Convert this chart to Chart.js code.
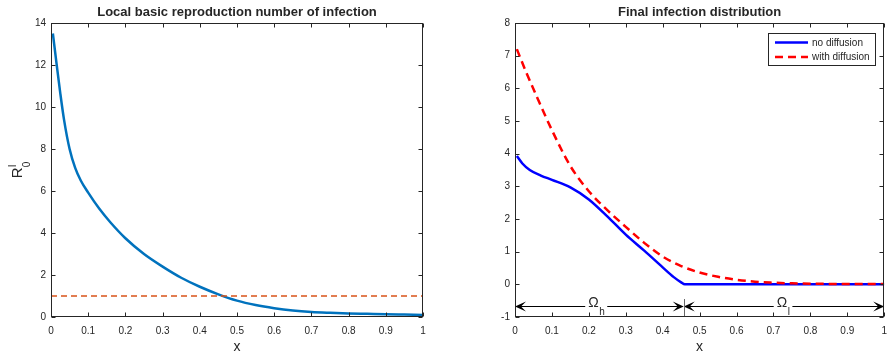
<!DOCTYPE html>
<html>
<head>
<meta charset="utf-8">
<script src="https://cdn.jsdelivr.net/npm/chart.js@4.4.0/dist/chart.umd.min.js"></script>
<style>
  html, body { margin: 0; padding: 0; background: #fff; overflow: hidden; width: 889px; height: 356px; }
  .panel { position: absolute; top: 0; }
</style>
</head>
<body>
<div class="panel" style="left:0"><canvas id="left" width="445" height="356"></canvas></div>
<div class="panel" style="left:445px"><canvas id="right" width="450" height="356"></canvas></div>
<script>
const FONT = '"Liberation Sans", Arial, Helvetica, sans-serif';
const INK = '#262626';

// left panel - local R0 along x
const r0X = [0.005, 0.015, 0.025, 0.035, 0.05, 0.065, 0.08, 0.1, 0.13, 0.16, 0.2, 0.25, 0.3, 0.35, 0.4, 0.45, 0.5, 0.55, 0.6, 0.65, 0.7, 0.75, 0.8, 0.85, 0.9, 0.95, 1.0];
const r0Y = [13.5, 12.05, 10.65, 9.4, 8.0, 7.1, 6.5, 5.92, 5.15, 4.5, 3.75, 3.0, 2.4, 1.87, 1.44, 1.08, 0.78, 0.57, 0.42, 0.31, 0.24, 0.2, 0.17, 0.15, 0.13, 0.115, 0.1];
const thresholdX = [0, 1];
const thresholdY = [1, 1];

// right panel - final infection
const noDiffX = [0.005, 0.02, 0.04, 0.07, 0.1, 0.15, 0.2, 0.25, 0.3, 0.35, 0.4, 0.43, 0.45, 0.46, 0.5, 0.6, 0.7, 0.8, 0.9, 1.0];
const noDiffY = [3.93, 3.7, 3.5, 3.33, 3.2, 2.97, 2.6, 2.08, 1.52, 1.03, 0.52, 0.22, 0.06, 0, 0, 0, 0, 0, 0, 0];
const withDiffX = [0.005, 0.03, 0.06, 0.1, 0.15, 0.2, 0.25, 0.3, 0.35, 0.4, 0.45, 0.5, 0.55, 0.6, 0.65, 0.7, 0.75, 0.8, 0.9, 1.0];
const withDiffY = [7.2, 6.5, 5.72, 4.72, 3.62, 2.85, 2.27, 1.76, 1.27, 0.85, 0.56, 0.36, 0.23, 0.14, 0.08, 0.05, 0.03, 0.02, 0.01, 0.01];

const xTicks = [0, 0.1, 0.2, 0.3, 0.4, 0.5, 0.6, 0.7, 0.8, 0.9, 1];
const leftYTicks = [0, 2, 4, 6, 8, 10, 12, 14];
const rightYTicks = [-1, 0, 1, 2, 3, 4, 5, 6, 7, 8];

// region annotation on the right panel
const interfaceX = 0.457;
const arrowY = -0.66;
const regions = [
  { x: 0.22, sub: 'h' },
  { x: 0.726, sub: 'l' }
];

const pts = (xs, ys) => xs.map((x, i) => ({ x, y: ys[i] }));

function xAxis() {
  return {
    type: 'linear', min: 0, max: 1,
    afterBuildTicks: s => { s.ticks = xTicks.map(v => ({ value: v })); },
    afterFit: s => { s.height = 39; },
    grid: { display: false, drawTicks: false },
    border: { display: false },
    ticks: { padding: 8, color: INK, font: { family: FONT, size: 10 }, maxRotation: 0, callback: v => String(v) }
  };
}

function yAxis(min, max, ticks, width) {
  return {
    type: 'linear', min, max,
    afterBuildTicks: s => { s.ticks = ticks.map(v => ({ value: v })); },
    afterFit: s => { s.width = width; },
    grid: { display: false, drawTicks: false },
    border: { display: false },
    ticks: { padding: 5, color: INK, font: { family: FONT, size: 10 }, callback: v => String(v) }
  };
}

// box, inward ticks, titles
function framePlugin(opts) {
  return {
    id: 'frame',
    afterDatasetsDraw(chart) {
      const { ctx, chartArea: a, scales: { x, y } } = chart;
      if (opts.extra) opts.extra(chart);
      ctx.save();
      ctx.strokeStyle = INK;
      ctx.lineWidth = 1;
      const L = Math.round(a.left) + 0.5, R = Math.round(a.right) - 0.5;
      const T = Math.round(a.top) + 0.5, B = Math.round(a.bottom) - 0.5;
      ctx.strokeRect(L, T, R - L, B - T);
      ctx.beginPath();
      x.ticks.forEach(t => {
        const px = Math.round(x.getPixelForValue(t.value)) + 0.5;
        ctx.moveTo(px, B); ctx.lineTo(px, B - 4);
        ctx.moveTo(px, T); ctx.lineTo(px, T + 4);
      });
      y.ticks.forEach(t => {
        const py = Math.round(y.getPixelForValue(t.value)) + 0.5;
        ctx.moveTo(L, py); ctx.lineTo(L + 4, py);
        ctx.moveTo(R, py); ctx.lineTo(R - 4, py);
      });
      ctx.stroke();

      const cx = (a.left + a.right) / 2;
      ctx.fillStyle = INK;
      ctx.textAlign = 'center';
      ctx.textBaseline = 'alphabetic';
      ctx.font = 'bold 13px ' + FONT;
      ctx.fillText(opts.title, cx, 16);
      ctx.font = '14px ' + FONT;
      ctx.fillText('x', cx, 351);
      opts.ylabel(ctx, (a.top + a.bottom) / 2);
      ctx.restore();
    }
  };
}

function legendPlugin() {
  return {
    id: 'boxLegend',
    afterDraw(chart) {
      const ctx = chart.ctx;
      const sets = chart.data.datasets.slice().sort((p, q) => p.legendIndex - q.legendIndex);
      ctx.save();
      ctx.fillStyle = '#fff';
      ctx.fillRect(323.5, 33.5, 107, 32);
      ctx.strokeStyle = INK;
      ctx.lineWidth = 1;
      ctx.strokeRect(323.5, 33.5, 107, 32);
      sets.forEach((d, i) => {
        const ly = 42.5 + i * 14.5;
        ctx.beginPath();
        ctx.strokeStyle = d.borderColor;
        ctx.lineWidth = d.borderWidth;
        ctx.setLineDash(d.borderDash || []);
        ctx.moveTo(330, ly); ctx.lineTo(363, ly);
        ctx.stroke();
        ctx.setLineDash([]);
        ctx.fillStyle = INK;
        ctx.font = '10px ' + FONT;
        ctx.textBaseline = 'middle';
        ctx.textAlign = 'left';
        ctx.fillText(d.label, 367, ly + 0.5);
      });
      ctx.restore();
    }
  };
}

function arrowHead(ctx, tip, py, dir) {
  ctx.beginPath();
  ctx.moveTo(tip, py);
  ctx.lineTo(tip - dir * 11, py - 5);
  ctx.lineTo(tip - dir * 6, py);
  ctx.lineTo(tip - dir * 11, py + 5);
  ctx.closePath();
  ctx.fill();
}

function drawRegions(chart) {
  const { ctx, scales: { x, y } } = chart;
  const py = Math.round(y.getPixelForValue(arrowY)) + 0.5;
  const x0 = x.getPixelForValue(0), xi = x.getPixelForValue(interfaceX), x1 = x.getPixelForValue(1);
  ctx.save();
  ctx.strokeStyle = '#000';
  ctx.fillStyle = '#000';
  ctx.lineWidth = 1;
  ctx.beginPath();
  ctx.moveTo(x0 + 4, py); ctx.lineTo(xi - 4, py);
  ctx.moveTo(xi + 4, py); ctx.lineTo(x1 - 4, py);
  ctx.stroke();
  arrowHead(ctx, x0, py, -1);
  arrowHead(ctx, xi, py, 1);
  arrowHead(ctx, xi, py, -1);
  arrowHead(ctx, x1, py, 1);
  ctx.strokeStyle = '#666';
  ctx.beginPath();
  const vx = Math.round(xi) + 0.5;
  ctx.moveTo(vx, y.getPixelForValue(-1)); ctx.lineTo(vx, y.getPixelForValue(-0.45));
  ctx.stroke();
  regions.forEach(r => {
    const cx = x.getPixelForValue(r.x);
    ctx.font = '14px ' + FONT;
    const wO = ctx.measureText('\u03A9').width;
    ctx.font = '10px ' + FONT;
    const wS = ctx.measureText(r.sub).width;
    const left = cx - (wO + wS) / 2;
    ctx.fillStyle = '#fff';
    ctx.fillRect(left - 3, py - 11, wO + wS + 6, 20);
    ctx.fillStyle = INK;
    ctx.textAlign = 'left';
    ctx.textBaseline = 'alphabetic';
    ctx.font = '14px ' + FONT;
    ctx.fillText('\u03A9', left, py);
    ctx.font = '10px ' + FONT;
    ctx.fillText(r.sub, left + wO + 0.5, py + 8);
  });
  ctx.restore();
}

new Chart(document.getElementById('left'), {
  type: 'line',
  data: {
    datasets: [
      { label: 'R0', data: pts(r0X, r0Y), borderColor: '#0072BD', borderWidth: 2.5, pointRadius: 0, cubicInterpolationMode: 'monotone', order: 1 },
      { label: 'threshold', data: pts(thresholdX, thresholdY), borderColor: '#D95319', borderWidth: 1.3, borderDash: [6, 4], pointRadius: 0, order: 0 }
    ]
  },
  options: {
    responsive: false, animation: false, devicePixelRatio: 1,
    layout: { padding: { top: 23, right: 22, left: 0, bottom: 0 } },
    plugins: { legend: { display: false }, tooltip: { enabled: false } },
    scales: { x: xAxis(), y: yAxis(0, 14, leftYTicks, 51) }
  },
  plugins: [framePlugin({
    title: 'Local basic reproduction number of infection',
    ylabel(ctx, cy) {
      ctx.save();
      ctx.translate(22, cy);
      ctx.rotate(-Math.PI / 2);
      ctx.textAlign = 'left';
      ctx.font = '15px ' + FONT;
      const wR = ctx.measureText('R').width;
      ctx.font = '10px ' + FONT;
      const wSub = Math.max(ctx.measureText('0').width, ctx.measureText('I').width);
      const start = -(wR + wSub) / 2;
      ctx.font = '15px ' + FONT;
      ctx.fillText('R', start, 0);
      ctx.font = '10px ' + FONT;
      ctx.fillText('0', start + wR, 8);
      ctx.fillText('I', start + wR, -6);
      ctx.restore();
    }
  })]
});

new Chart(document.getElementById('right'), {
  type: 'line',
  data: {
    datasets: [
      { label: 'no diffusion', legendIndex: 0, data: pts(noDiffX, noDiffY), borderColor: '#0000FF', borderWidth: 2.5, pointRadius: 0, cubicInterpolationMode: 'monotone', order: 1 },
      { label: 'with diffusion', legendIndex: 1, data: pts(withDiffX, withDiffY), borderColor: '#FF0000', borderWidth: 2.5, borderDash: [8, 5], pointRadius: 0, cubicInterpolationMode: 'monotone', order: 0 }
    ]
  },
  options: {
    responsive: false, animation: false, devicePixelRatio: 1,
    layout: { padding: { top: 23, right: 8, left: 0, bottom: 0 } },
    plugins: { legend: { display: false }, tooltip: { enabled: false } },
    scales: { x: xAxis(), y: yAxis(-1, 8, rightYTicks, 70) }
  },
  plugins: [framePlugin({
    title: 'Final infection distribution',
    extra: drawRegions,
    ylabel(ctx, cy) {
      ctx.save();
      ctx.translate(494, cy);
      ctx.rotate(-Math.PI / 2);
      ctx.textAlign = 'center';
      ctx.font = '15px ' + FONT;
      ctx.fillText('I', 0, 0);
      ctx.restore();
    }
  }), legendPlugin()]
});
</script>
</body>
</html>
